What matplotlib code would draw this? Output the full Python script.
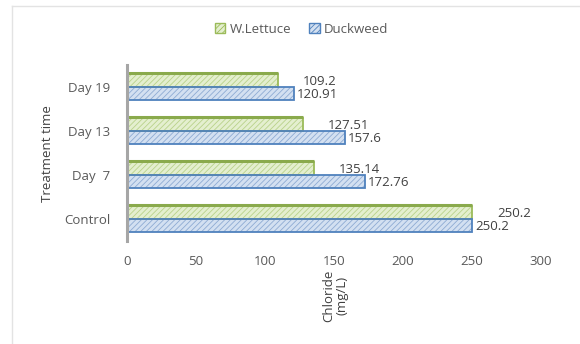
import matplotlib.pyplot as plt
import matplotlib.lines as mlines
import matplotlib.patches as mpatches
import numpy as np

plt.rcParams['font.family'] = ['Open Sans', 'DejaVu Sans']
plt.rcParams['hatch.linewidth'] = 0.6

categories = ["Control", "Day  7", "Day 13", "Day 19"]
lettuce = [250.2, 135.14, 127.51, 109.2]
duckweed = [250.2, 172.76, 157.6, 120.91]
x_ticks = [0, 50, 100, 150, 200, 250, 300]

green_edge = "#9bbb59"
green_fill = "#e4efcf"
green_hatch = "#b9d28a"
blue_edge = "#4f81bd"
blue_fill = "#d3e0f1"
blue_hatch = "#8eabd3"
text_col = "#595959"

fig = plt.figure(figsize=(5.8, 3.44), dpi=100)
ax = fig.add_axes([0.219, 0.299, 0.714, 0.512])

y = np.arange(len(categories))
h = 0.3

# filled + hatched bodies, then outlines on top
ax.barh(y + h / 2, lettuce, height=h, color=green_fill, hatch="//////",
        edgecolor=green_hatch, linewidth=0)
ax.barh(y - h / 2, duckweed, height=h, color=blue_fill, hatch="//////",
        edgecolor=blue_hatch, linewidth=0)
ax.barh(y + h / 2, lettuce, height=h, fill=False, edgecolor=green_edge, linewidth=1.3)
ax.barh(y - h / 2, duckweed, height=h, fill=False, edgecolor=blue_edge, linewidth=1.3)

# darker top edge of the green bars (3D look)
for yi, v in zip(y, lettuce):
    ax.plot([0, v], [yi + h + 0.02, yi + h + 0.02], color="#8aaa4c", lw=2.2,
            solid_capstyle="butt")

for yi, v in zip(y, lettuce):
    ax.annotate(f"{v:g}", xy=(v, yi + 0.13), xytext=(18, 0), textcoords="offset points",
                va="center", ha="left", fontsize=9.5, color="#404040")
for yi, v in zip(y, duckweed):
    ax.annotate(f"{v:g}", xy=(v, yi - 0.17), xytext=(2, 0), textcoords="offset points",
                va="center", ha="left", fontsize=9.5, color="#404040")

ax.set_xlim(0, 300)
ax.set_ylim(-0.5, 3.5)
ax.set_xticks(x_ticks)
ax.set_xticklabels([str(t) for t in x_ticks], fontsize=9.5, color=text_col)
ax.set_yticks(y)
ax.set_yticklabels(categories, fontsize=9.5, color=text_col)
ax.tick_params(axis="y", length=0, pad=12)
ax.tick_params(axis="x", length=0, pad=10)

for s in ["top", "right", "bottom"]:
    ax.spines[s].set_visible(False)
ax.spines["left"].set_color("#a6a6a6")
ax.spines["left"].set_linewidth(2.2)

ax.set_ylabel("Treatment time", fontsize=9.5, color="#404040", labelpad=7)
fig.text(0.578, 0.064, "Chloride\n(mg/L)", rotation=90, ha="center", va="bottom",
         fontsize=9.5, color="#404040", linespacing=1.0)

g_patch = mpatches.Patch(facecolor=green_fill, edgecolor=green_edge, hatch="//////")
b_patch = mpatches.Patch(facecolor=blue_fill, edgecolor=blue_edge, hatch="//////")
fig.legend([g_patch, b_patch], ["W.Lettuce", "Duckweed"], loc="center",
           bbox_to_anchor=(0.52, 0.915), ncol=2, frameon=False, fontsize=9.5,
           handlelength=0.8, handleheight=0.8, handletextpad=0.3, columnspacing=1.4,
           labelcolor="#595959")

# faint chart-area border
fig.add_artist(mlines.Line2D([12 / 580, 12 / 580], [0, 1 - 6 / 344], color="#e3e3e3", lw=1))
fig.add_artist(mlines.Line2D([12 / 580, 1], [1 - 6 / 344, 1 - 6 / 344], color="#e3e3e3", lw=1))

fig.savefig("out.png", dpi=100)
